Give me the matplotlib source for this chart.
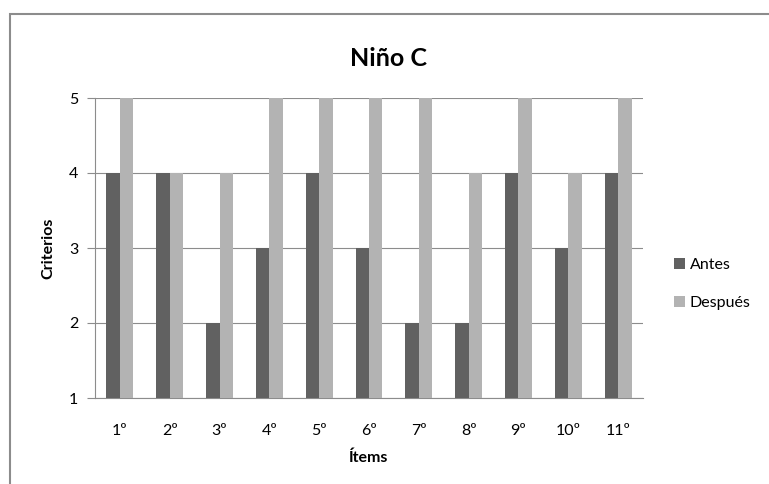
import matplotlib.pyplot as plt
import numpy as np
from matplotlib.patches import Rectangle

plt.rcParams['font.family'] = ['Lato', 'DejaVu Sans']

items = ['1º', '2º', '3º', '4º', '5º', '6º', '7º', '8º', '9º', '10º', '11º']
antes = [4, 4, 2, 3, 4, 3, 2, 2, 4, 3, 4]
despues = [5, 4, 4, 5, 5, 5, 5, 4, 5, 4, 5]

dark = '#616161'
light = '#b3b3b3'

fig = plt.figure(figsize=(7.69, 4.84), dpi=100)
# chart border like the spreadsheet frame
fig.patches.append(Rectangle((10 / 769, -0.05), 1.0, 1 - 14 / 484 + 0.05,
                             transform=fig.transFigure, fill=False,
                             edgecolor='#8c8c8c', linewidth=1.5))

ax = fig.add_axes([95 / 769, 1 - 398 / 484, (643 - 95) / 769, (398 - 98) / 484])
x = np.arange(len(items))
w = 0.27
ax.bar(x - w / 2, antes, w, color=dark, label='Antes', zorder=3)
ax.bar(x + w / 2, despues, w, color=light, label='Después', zorder=3)

ax.set_xlim(-0.5, len(items) - 0.5)
ax.set_ylim(1, 5)
ax.set_yticks([1, 2, 3, 4, 5])
ax.set_xticks(x)
ax.set_xticklabels(items)
ax.yaxis.grid(True, color='#8c8c8c', linewidth=0.8, zorder=0)
for s in ['top', 'right']:
    ax.spines[s].set_visible(False)
for s in ['left', 'bottom']:
    ax.spines[s].set_color('#8c8c8c')
ax.tick_params(axis='y', length=6, color='#8c8c8c', labelsize=11.5, pad=6)
ax.tick_params(axis='x', length=0, labelsize=11.5, pad=19)

ax.set_xlabel('Ítems', fontsize=11.5, fontweight='bold', labelpad=9)
ax.set_ylabel('Criterios', fontsize=11.5, fontweight='bold', labelpad=10)
fig.text(388 / 769, 1 - 58 / 484, 'Niño C', ha='center', va='center',
         fontsize=18, fontweight='bold')

ax.legend(loc='center left', bbox_to_anchor=(1.03, 0.38), frameon=False,
          fontsize=11.5, handlelength=0.7, handleheight=0.7, handletextpad=0.3,
          labelspacing=1.5)

fig.savefig('out.png', dpi=100)
